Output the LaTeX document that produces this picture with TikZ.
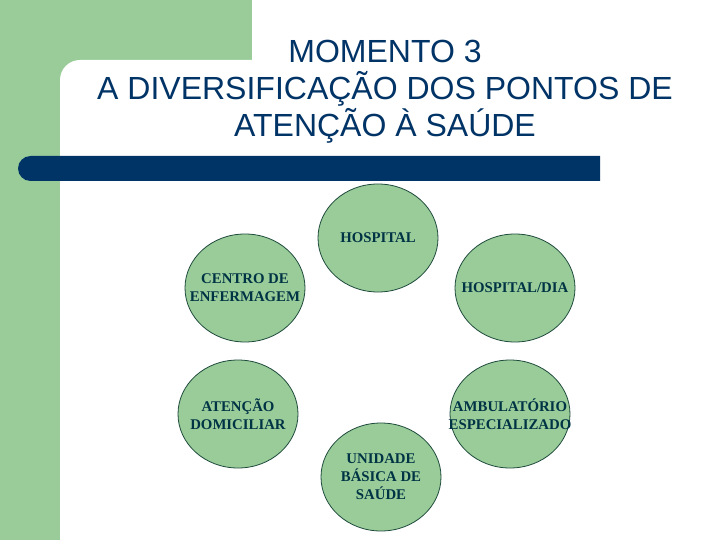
\documentclass[tikz,border=0pt]{standalone}
\usepackage{fontspec}
\setmainfont{Liberation Serif}
\newfontfamily\titlefont{Liberation Sans}
\usepackage{xcolor}
\usepackage{tikz}
\usetikzlibrary{shapes.geometric}
\definecolor{momgreen}{HTML}{99CC99}
\definecolor{momblue}{HTML}{003366}
\definecolor{momink}{HTML}{003344}
\definecolor{momedge}{HTML}{1E4A3C}
\tikzset{
  spot/.style={ellipse,draw=momedge,line width=0.8pt,fill=momgreen,minimum width=120pt,minimum height=108pt,inner sep=0pt},
  spottext/.style={align=center,text=momink,inner sep=0pt,font=\bfseries\fontsize{14.8}{18}\selectfont},
}

\begin{document}
\begin{tikzpicture}[x=1pt,y=-1pt]
\useasboundingbox (0,0) rectangle (720,540);
% background band
\fill[white] (0,0) rectangle (720,540);
\fill[momgreen] (0,0) rectangle (60,540);
\fill[momgreen] (0,0) rectangle (252,100);
\fill[white] (60,540) [rounded corners=20pt] -- (60,60) [sharp corners] -- (720,60) -- (720,540) -- cycle;
% title and bar
\node[anchor=north,inner sep=0pt,align=center,text=momblue,font=\titlefont\fontsize{32}{37}\selectfont] (title) at (385,40)
 {MOMENTO 3\\A DIVERSIFICAÇÃO DOS PONTOS DE\\ATENÇÃO À SAÚDE};
\fill[momblue] (600,156) -- (600,181) [rounded corners=12.5pt] -- (18,181) -- (18,156) [sharp corners] -- cycle;
% points of care
\node[spot,label={[spottext]center:HOSPITAL}] (hosp) at (378,238) {};
\node[spot,label={[spottext]center:CENTRO DE\\ENFERMAGEM}] (cenf) at (245,288) {};
\node[spot,label={[spottext]center:HOSPITAL/DIA}] (hdia) at (515,288) {};
\node[spot,label={[spottext]center:ATENÇÃO\\DOMICILIAR}] (adom) at (238,414) {};
\node[spot,label={[spottext]center:AMBULATÓRIO\\ESPECIALIZADO}] (ambe) at (510,414) {};
\node[spot,label={[spottext]center:UNIDADE\\BÁSICA DE\\SAÚDE}] (ubs) at (381,477) {};
\end{tikzpicture}
\end{document}
